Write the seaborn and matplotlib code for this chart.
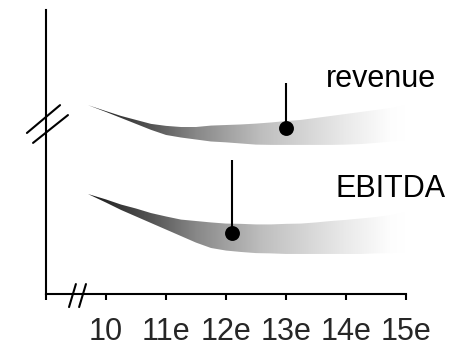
import numpy as np
import pandas as pd
import matplotlib
matplotlib.use('Agg')
import matplotlib.pyplot as plt
import seaborn as sns
from matplotlib.colors import LinearSegmentedColormap

# fan edges (forecast ranges)
years = [9.7, 10, 10.25, 10.5, 10.75, 11, 11.25, 11.5, 11.75, 12, 12.25,
         12.5, 12.75, 13, 13.25, 13.5, 13.75, 14, 14.25, 14.5, 14.75, 15]
revenue_hi = [66.5, 64.4, 62.7, 61.3, 59.9, 59.2, 58.8, 58.8, 59.3, 59.5, 59.7,
              60.0, 60.4, 60.9, 61.3, 62.0, 62.7, 63.4, 64.1, 64.8, 65.5, 66.5]
revenue_lo = [66.5, 64.1, 62.0, 59.9, 57.8, 56.0, 55.1, 54.4, 53.7, 53.4, 53.0,
              52.6, 52.5, 52.5, 52.5, 52.5, 52.5, 52.6, 52.8, 53.2, 53.7, 54.2]
ebitda_hi = [35.2, 33.3, 31.5, 30.1, 28.5, 27.3, 26.2, 25.7, 25.2, 24.8, 24.7,
             24.5, 24.5, 24.7, 24.8, 25.2, 25.7, 26.1, 26.6, 27.1, 27.8, 28.9]
ebitda_lo = [35.2, 32.2, 29.6, 27.3, 25.0, 22.7, 20.4, 18.1, 16.2, 15.3, 14.8,
             14.4, 14.3, 14.1, 14.1, 14.1, 14.1, 14.1, 14.1, 14.3, 14.4, 14.8]

# consensus points and their stems
point_names = ['revenue', 'EBITDA']
point_x = [13.0, 12.1]
point_y = [58.5, 21.5]
stem_top = [74.3, 47.2]
label_x = [13.67, 13.83]
label_y = [75.7, 36.8]

tick_pos = [9, 10, 11, 12, 13, 14, 15]
tick_labels = ['', '10', '11e', '12e', '13e', '14e', '15e']

points = pd.DataFrame({'name': point_names, 'x': point_x, 'y': point_y, 'top': stem_top})

sns.set_theme(style='ticks')
plt.rcParams['font.family'] = ['Liberation Sans', 'DejaVu Sans']

fig = plt.figure(figsize=(4.56, 3.47), dpi=100)
ax = fig.add_axes([46 / 456, 53 / 347, 360 / 456, 284 / 347])

cmap = LinearSegmentedColormap.from_list(
    'fan', [(0, '#1a1a1a'), (0.2, '#555555'), (0.34, '#888888'), (0.55, '#bfbfbf'),
            (0.82, '#ebebeb'), (0.95, '#fdfdfd'), (1, '#ffffff')])
grad = np.linspace(0, 1, 256).reshape(1, -1)

for hi, lo in [(revenue_hi, revenue_lo), (ebitda_hi, ebitda_lo)]:
    poly = ax.fill_between(years, lo, hi, facecolor='none', edgecolor='none')
    im = ax.imshow(grad, extent=[years[0], years[-1], min(lo), max(hi)],
                   aspect='auto', cmap=cmap, origin='lower', zorder=1)
    im.set_clip_path(poly.get_paths()[0], ax.transData)

ax.vlines(points['x'], points['y'], points['top'], color='black', lw=1.5, zorder=3)
sns.scatterplot(data=points, x='x', y='y', color='black', s=115, linewidth=0,
                zorder=4, ax=ax, legend=False)

for name, tx, ty in zip(point_names, label_x, label_y):
    ax.text(tx, ty, name, fontsize=22, ha='left', va='center', color='black')

ax.set_xlim(9, 15)
ax.set_ylim(0, 100)
ax.set_xticks(tick_pos, tick_labels)
ax.set_yticks([])
ax.set_xlabel('')
ax.set_ylabel('')
ax.tick_params(axis='x', length=4.5, width=1.5, labelsize=22, pad=12, color='black')
sns.despine(ax=ax)
for side in ['left', 'bottom']:
    ax.spines[side].set_linewidth(1.5)
    ax.spines[side].set_color('black')

# axis break marks
brk = dict(color='black', lw=1.5, transform=ax.transAxes, clip_on=False)
ax.plot([-0.053, 0.039], [0.567, 0.665], **brk)
ax.plot([-0.036, 0.061], [0.532, 0.630], **brk)
ax.plot([0.064, 0.083], [-0.046, 0.035], **brk)
ax.plot([0.092, 0.111], [-0.046, 0.035], **brk)

fig.savefig('out.png', dpi=100)
